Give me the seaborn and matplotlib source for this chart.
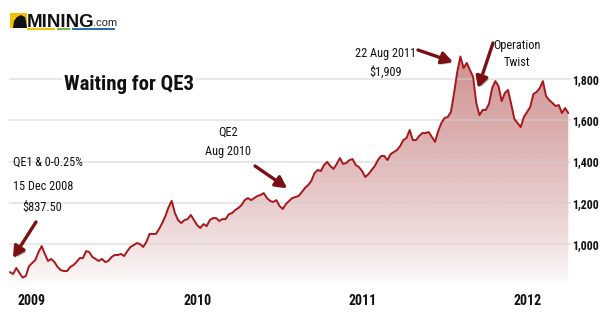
import matplotlib
matplotlib.use("Agg")
import matplotlib.pyplot as plt
import matplotlib.dates as mdates
import matplotlib.patheffects as pe
from matplotlib.patches import Rectangle, Polygon
import numpy as np
import pandas as pd
import seaborn as sns

# Weekly gold price (USD/oz), starting mid-November 2008
start_date = "2008-11-14"
gold_price = [
    864, 855, 884, 860, 837.5, 845, 893, 908, 923, 961,
    990, 952, 918, 928, 913, 889, 874, 869, 869, 889,
    898, 913, 932, 932, 966, 961, 937, 928, 918, 928,
    913, 918, 937, 947, 947, 952, 942, 966, 986, 995,
    1005, 1000, 986, 1010, 1049, 1049, 1049, 1073, 1102, 1136,
    1179, 1209, 1150, 1116, 1102, 1116, 1121, 1141, 1116, 1092,
    1078, 1097, 1087, 1116, 1126, 1126, 1112, 1121, 1121, 1145,
    1150, 1165, 1175, 1189, 1213, 1223, 1213, 1223, 1233, 1238,
    1247, 1223, 1209, 1204, 1213, 1184, 1170, 1194, 1209, 1223,
    1228, 1233, 1252, 1272, 1286, 1306, 1344, 1359, 1354, 1383,
    1398, 1378, 1364, 1388, 1417, 1388, 1393, 1407, 1412, 1383,
    1373, 1354, 1325, 1339, 1359, 1378, 1407, 1427, 1427, 1407,
    1436, 1446, 1456, 1475, 1504, 1514, 1553, 1504, 1504, 1524,
    1538, 1538, 1543, 1519, 1495, 1548, 1587, 1611, 1616, 1640,
    1732, 1834, 1909, 1853, 1878, 1844, 1810, 1684, 1625, 1650,
    1650, 1679, 1756, 1790, 1766, 1693, 1732, 1747, 1679, 1606,
    1587, 1567, 1616, 1640, 1664, 1727, 1737, 1756, 1790, 1717,
    1698, 1684, 1669, 1674, 1635, 1659, 1635,
]
year_ticks = ["2009", "2010", "2011", "2012"]
price_ticks = [1000, 1200, 1400, 1600, 1800]

sns.set_theme(style="white")
plt.rcParams["font.family"] = ["Roboto Condensed", "Roboto", "DejaVu Sans"]
plt.rcParams["font.stretch"] = "condensed"

dates = pd.date_range(start_date, periods=len(gold_price), freq="7D")
df = pd.DataFrame({"date": dates, "price": gold_price})

W, H = 600, 324
fig = plt.figure(figsize=(W / 100, H / 100), dpi=100)
ax = fig.add_axes([0, 36 / H, 571 / W, 288 / H])

x_lo, x_hi = pd.Timestamp("2008-10-23"), pd.Timestamp("2012-04-05")
y_lo, y_hi = 787, 2183

LINE = "#a8171c"
ARROW = "#7a1013"

# price line
sns.lineplot(data=df, x="date", y="price", color=LINE, lw=1.4, ax=ax, zorder=4)

# gradient fill under the curve
xnum = mdates.date2num(dates)
vals = np.linspace(y_lo, y_hi, 400)
alpha = np.clip((vals - 800) / 1100, 0, 1) ** 0.75 * 0.64
img = np.zeros((len(vals), 2, 4))
img[..., 0] = 180 / 255
img[..., 1] = 86 / 255
img[..., 2] = 86 / 255
img[..., 3] = alpha[:, None]
im = ax.imshow(img, extent=[xnum[0], xnum[-1], y_lo, y_hi], origin="lower",
               aspect="auto", zorder=1, interpolation="bilinear")
poly = ax.fill_between(df["date"], df["price"], y_lo, color="none", lw=0)
im.set_clip_path(poly.get_paths()[0], transform=ax.transData)

# horizontal gridlines
ax.hlines(price_ticks, mdates.date2num(pd.Timestamp("2008-11-12")),
          mdates.date2num(x_hi), color="#cfcfcf", lw=1.3, alpha=0.55, zorder=2)

ax.set_xlim(x_lo, x_hi)
ax.set_ylim(y_lo, y_hi)
for s in ax.spines.values():
    s.set_visible(False)
ax.set_xlabel("")
ax.set_ylabel("")

ax.set_xticks([pd.Timestamp(f"{y}-01-01") for y in year_ticks])
ax.set_xticklabels(year_ticks, fontsize=10, fontweight="bold", color="#111111")
ax.tick_params(axis="x", length=0, pad=4)
ax.yaxis.tick_right()
ax.set_yticks(price_ticks)
ax.set_yticklabels([f"{p:,}" for p in price_ticks], fontsize=8.6,
                   fontweight="bold", color="#111111")
ax.tick_params(axis="y", length=0, pad=1)

# title
fig.text(129 / W, 1 - 84 / H, "Waiting for QE3", fontsize=15, fontweight="bold",
         color="#111111", ha="center", va="center",
         bbox=dict(facecolor="white", edgecolor="none", pad=1.5), zorder=5)

def fx(x):
    return x / W

def fy(y):
    return 1 - y / H

txt = dict(fontsize=8.8, color="#111111", zorder=6)
fig.text(fx(13), fy(162), "QE1 & 0-0.25%", ha="left", va="center", **txt)
fig.text(fx(13), fy(187), "15 Dec 2008", ha="left", va="center", **txt)
fig.text(fx(22), fy(207), "$837.50", ha="left", va="center", **txt)
fig.text(fx(228), fy(132), "QE2", ha="center", va="center", **txt)
fig.text(fx(228), fy(152), "Aug 2010", ha="center", va="center", **txt)
fig.text(fx(385), fy(53), "22 Aug 2011", ha="center", va="center", **txt)
fig.text(fx(386), fy(72), "$1,909", ha="center", va="center", **txt)
fig.text(fx(517), fy(45), "Operation", ha="center", va="center", **txt)
fig.text(fx(517), fy(63), "Twist", ha="center", va="center", **txt)

shadow = [pe.SimplePatchShadow(offset=(1.5, -1.5), alpha=0.35), pe.Normal()]
for (x0, y0), (x1, y1) in [((36, 222), (13, 258)), ((255, 166), (287, 188)),
                           ((418, 50), (453, 62)), ((493, 43), (478, 88))]:
    ax.annotate("", xy=(fx(x1), fy(y1)), xytext=(fx(x0), fy(y0)),
                xycoords="figure fraction", textcoords="figure fraction",
                arrowprops=dict(arrowstyle="-|>,head_length=0.55,head_width=0.3",
                                lw=2.4, color=ARROW, shrinkA=0, shrinkB=0,
                                mutation_scale=12, path_effects=shadow),
                zorder=7)

# MINING.com logo
ft = fig.transFigure
fig.patches.append(Rectangle((fx(10), fy(28)), 17 / W, 15 / H, transform=ft,
                             facecolor="#f2c200", edgecolor="none", zorder=8))
fig.patches.append(Polygon([(fx(13), fy(28)), (fx(14), fy(21)), (fx(17), fy(17)),
                            (fx(21), fy(15)), (fx(25), fy(17)), (fx(26), fy(21)),
                            (fx(27), fy(28))], closed=True, transform=ft,
                           facecolor="#111111", edgecolor="none", zorder=9))
fig.text(fx(27), fy(27), "MINING", fontsize=13.5, fontweight="bold",
         family=["Liberation Sans", "DejaVu Sans"], stretch="normal",
         color="#111111", ha="left", va="baseline", zorder=9)
fig.text(fx(93), fy(26), ".com", fontsize=8, family=["Liberation Sans", "DejaVu Sans"],
         stretch="normal", color="#222222", ha="left", va="baseline", zorder=9)
for a, b, c in [(27, 55, "#f2c200"), (57, 70, "#7db33b"), (72, 115, "#2c6fb0")]:
    fig.patches.append(Rectangle((fx(a), fy(30)), (b - a) / W, 2 / H, transform=ft,
                                 facecolor=c, edgecolor="none", zorder=8))

fig.savefig("out.png", dpi=100, facecolor="white")
